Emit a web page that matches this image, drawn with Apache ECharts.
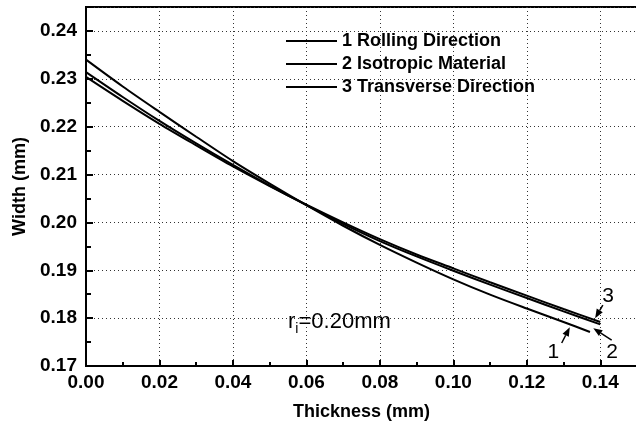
<!DOCTYPE html>
<html>
<head>
<meta charset="utf-8">
<script src="https://cdn.jsdelivr.net/npm/echarts@6/dist/echarts.min.js"></script>
<style>
  html, body { margin: 0; padding: 0; background: #fff; }
  #chart { width: 636px; height: 427px; }
</style>
</head>
<body>
<div id="chart"></div>
<script>
// Strip width versus thickness for three material orientations (r_i = 0.20 mm)
const seriesNames = ['1 Rolling Direction', '2 Isotropic Material', '3 Transverse Direction'];

const thicknessRolling = [0.00, 0.01, 0.02, 0.03, 0.04, 0.05, 0.06, 0.07, 0.08, 0.09, 0.10, 0.11, 0.12, 0.13, 0.1372];
const widthRolling     = [0.2340, 0.2284, 0.2231, 0.2179, 0.2128, 0.2081, 0.2036, 0.1993, 0.1953, 0.1916, 0.1881, 0.1849, 0.1820, 0.1792, 0.1771];

const thicknessIsotropic = [0.00, 0.01, 0.02, 0.03, 0.04, 0.05, 0.06, 0.07, 0.08, 0.09, 0.10, 0.11, 0.12, 0.13, 0.14];
const widthIsotropic     = [0.2314, 0.2262, 0.2212, 0.2165, 0.2120, 0.2077, 0.2036, 0.1997, 0.1961, 0.1929, 0.1899, 0.1870, 0.1842, 0.1814, 0.1787];

const thicknessTransverse = [0.00, 0.01, 0.02, 0.03, 0.04, 0.05, 0.06, 0.07, 0.08, 0.09, 0.10, 0.11, 0.12, 0.13, 0.14];
const widthTransverse     = [0.2304, 0.2254, 0.2206, 0.2161, 0.2117, 0.2076, 0.2037, 0.2000, 0.1965, 0.1933, 0.1904, 0.1875, 0.1847, 0.1819, 0.1792];

// Curve callouts: label position, arrow tail and arrow head, in data units
const calloutLabels = ['1', '2', '3'];
const calloutText   = [[0.1272, 0.1728], [0.1432, 0.1728], [0.1421, 0.1846]];
const calloutTail   = [[0.1295, 0.1748], [0.1431, 0.1754], [0.1407, 0.1827]];
const calloutHead   = [[0.1317, 0.1781], [0.1381, 0.1779], [0.1386, 0.1800]];
const radiusNote = [0.0550, 0.1792];

const FONT = '"Liberation Sans", Arial, Helvetica, sans-serif';

function pairs(xs, ys) { return xs.map((x, i) => [x, ys[i]]); }

function curve(name, xs, ys) {
  return {
    name: name,
    type: 'line',
    data: pairs(xs, ys),
    symbol: 'none',
    smooth: 0.3,
    lineStyle: { color: '#000', width: 2 },
    itemStyle: { color: '#000' },
    silent: true,
    z: 5
  };
}

const chart = echarts.init(document.getElementById('chart'), null, { renderer: 'canvas' });

const gridDash = { color: '#333', width: 1, type: [1, 3] };
const tickFont = { fontFamily: FONT, fontSize: 19, fontWeight: 'bold', color: '#000' };
const titleFont = { fontFamily: FONT, fontSize: 18, fontWeight: 'bold', color: '#000' };

chart.setOption({
  animation: false,
  backgroundColor: '#fff',
  grid: {
    left: 86, top: 7, width: 551, height: 359,
    containLabel: false, outerBoundsMode: 'none',
    show: true, borderColor: '#000', borderWidth: 2, backgroundColor: 'transparent'
  },
  legend: {
    orient: 'vertical',
    left: 286, top: 32, padding: 0,
    icon: 'rect',
    itemWidth: 51, itemHeight: 2, itemGap: 5,
    data: seriesNames,
    textStyle: titleFont
  },
  xAxis: {
    type: 'value',
    min: 0, max: 0.15, interval: 0.02,
    name: 'Thickness (mm)',
    nameLocation: 'middle', nameGap: 37,
    nameTextStyle: titleFont,
    axisLine: { show: true, onZero: false, lineStyle: { color: '#000', width: 2 } },
    axisTick: { show: true, inside: true, length: 6, lineStyle: { color: '#000', width: 2 } },
    minorTick: { show: true, splitNumber: 2, length: 4, lineStyle: { color: '#000', width: 2 } },
    axisLabel: Object.assign({ margin: 7, showMaxLabel: false, formatter: v => v.toFixed(2) }, tickFont),
    splitLine: { show: true, lineStyle: gridDash }
  },
  yAxis: {
    type: 'value',
    min: 0.17, max: 0.245, interval: 0.01,
    name: 'Width (mm)',
    nameLocation: 'middle', nameGap: 56,
    nameTextStyle: titleFont,
    axisLine: { show: true, onZero: false, lineStyle: { color: '#000', width: 2 } },
    axisTick: { show: true, inside: true, length: 7, lineStyle: { color: '#000', width: 2 } },
    minorTick: { show: true, splitNumber: 2, length: 5, lineStyle: { color: '#000', width: 2 } },
    axisLabel: Object.assign({ margin: 9, showMaxLabel: false, formatter: v => v.toFixed(2) }, tickFont),
    splitLine: { show: true, lineStyle: gridDash }
  },
  series: [
    curve(seriesNames[0], thicknessRolling, widthRolling),
    curve(seriesNames[1], thicknessIsotropic, widthIsotropic),
    curve(seriesNames[2], thicknessTransverse, widthTransverse)
  ]
});

// Callout arrows, numbers and the inner-radius note
function px(p) { return chart.convertToPixel({ gridIndex: 0 }, p); }

const elements = [];
calloutLabels.forEach((lab, i) => {
  const t = px(calloutTail[i]);
  const h = px(calloutHead[i]);
  const c = px(calloutText[i]);
  const dx = h[0] - t[0], dy = h[1] - t[1];
  const len = Math.sqrt(dx * dx + dy * dy);
  const ux = dx / len, uy = dy / len;
  const headLen = 9, headHalf = 3.5;
  const bx = h[0] - ux * headLen, by = h[1] - uy * headLen;
  elements.push({
    type: 'line', silent: true, z: 20,
    shape: { x1: t[0], y1: t[1], x2: bx, y2: by },
    style: { stroke: '#000', lineWidth: 1.5 }
  });
  elements.push({
    type: 'polygon', silent: true, z: 20,
    shape: { points: [[h[0], h[1]], [bx - uy * headHalf, by + ux * headHalf], [bx + uy * headHalf, by - ux * headHalf]] },
    style: { fill: '#000' }
  });
  elements.push({
    type: 'text', silent: true, z: 20,
    x: c[0], y: c[1],
    style: {
      text: lab, fill: '#000', font: '21px ' + FONT,
      align: 'center', verticalAlign: 'middle'
    }
  });
});

const rn = px(radiusNote);
elements.push({
  type: 'text', silent: true, z: 20,
  x: rn[0], y: rn[1],
  style: {
    text: '{r|r}{s|i}{r|=0.20mm}',
    verticalAlign: 'middle', align: 'left',
    rich: {
      r: { fontFamily: FONT, fontSize: 22, fill: '#000', color: '#000' },
      s: { fontFamily: FONT, fontSize: 14, fill: '#000', color: '#000', padding: [14, 0, 0, 0] }
    }
  }
});

chart.setOption({ graphic: { elements: elements } });
</script>
</body>
</html>
